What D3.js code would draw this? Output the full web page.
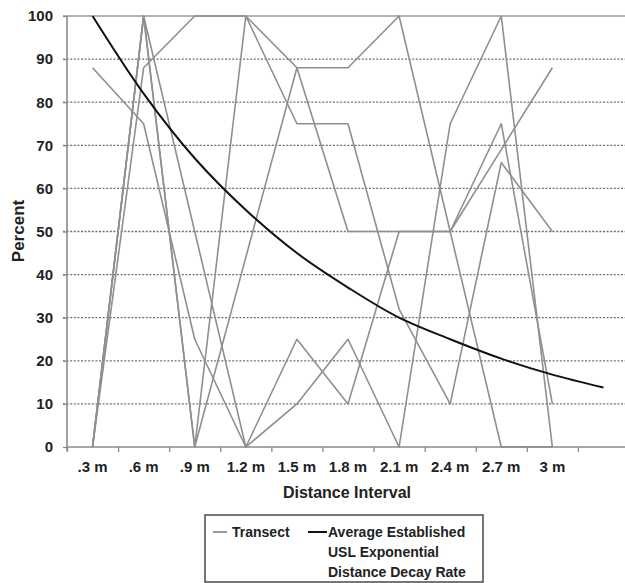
<!DOCTYPE html>
<html>
<head>
<meta charset="utf-8">
<script src="https://cdn.jsdelivr.net/npm/d3@7/dist/d3.min.js"></script>
<style>
  html, body { margin: 0; padding: 0; background: #fff; }
  svg { display: block; font-family: "Liberation Sans", Arial, sans-serif; font-weight: bold; }
</style>
</head>
<body>
<svg id="chart" width="625" height="583"></svg>
<script>
// Distance intervals along the transect (the last slot carries only the decay curve)
const categories = [".3 m", ".6 m", ".9 m", "1.2 m", "1.5 m", "1.8 m", "2.1 m", "2.4 m", "2.7 m", "3 m", ""];

// Percent cover per transect at each interval
const transect1 = [0, 88, 100, 100, 88, 88, 100, 50, 0, 0];
const transect2 = [0, 100, 0, 100, 75, 75, 32, 10, 66, 50];
const transect3 = [88, 75, 25, 0, 25, 10, 50, 50, 75, 10];
const transect4 = [0, 100, 0, 44, 88, 50, 50, 50, 69, 88];
const transect5 = [0, 100, 50, 0, 10, 25, 0, 75, 100, 0];

// Average established USL exponential distance decay rate
const decayRate = [100, 82, 67, 55, 45, 37, 30, 25, 20.5, 16.8, 13.8];

const yTicks = [0, 10, 20, 30, 40, 50, 60, 70, 80, 90, 100];

const svg = d3.select("#chart");
const plotLeft = 67, plotRight = 629, plotTop = 16, plotBottom = 447;

const x = d3.scaleBand().domain(categories).range([plotLeft, plotRight]).padding(0);
const xEdge = d3.scaleLinear().domain([0, categories.length]).range([plotLeft, plotRight]);
const y = d3.scaleLinear().domain([0, 100]).range([plotBottom, plotTop]);
const cx = c => x(c) + x.bandwidth() / 2;

// Dotted horizontal gridlines
const grid = svg.append("g");
grid.selectAll("line")
  .data(yTicks.filter(v => v > 0 && v < 100))
  .join("line")
  .attr("x1", plotLeft - 4).attr("x2", 625)
  .attr("y1", d => y(d)).attr("y2", d => y(d))
  .attr("stroke", "#6e6e6e").attr("stroke-width", 1.3)
  .attr("stroke-dasharray", "2,1.6");

// Solid line along the 100% level
svg.append("line")
  .attr("x1", plotLeft - 4).attr("x2", 625)
  .attr("y1", y(100)).attr("y2", y(100))
  .attr("stroke", "#9a9a9a").attr("stroke-width", 1.5);

// Transect lines
const transects = [transect1, transect2, transect3, transect4, transect5];
const line = d3.line()
  .x((d, i) => cx(categories[i]))
  .y(d => y(d));
svg.append("g").selectAll("path")
  .data(transects)
  .join("path")
  .attr("d", line)
  .attr("fill", "none")
  .attr("stroke", "#8f8f8f")
  .attr("stroke-width", 1.6)
  .attr("stroke-linejoin", "round");

// Smoothed decay curve
const curve = d3.line()
  .x((d, i) => cx(categories[i]))
  .y(d => y(d))
  .curve(d3.curveCatmullRom);
svg.append("path")
  .attr("d", curve(decayRate))
  .attr("fill", "none")
  .attr("stroke", "#111")
  .attr("stroke-width", 2);

// Y axis
const yAxis = svg.append("g")
  .attr("transform", `translate(${plotLeft},0)`)
  .call(d3.axisLeft(y).tickValues(yTicks).tickSize(4).tickPadding(10).tickFormat(d3.format("d")));
yAxis.select(".domain").attr("stroke", "#8a8a8a").attr("stroke-width", 1.6)
  .attr("d", `M0,${plotTop}V${plotBottom + 4}`);
yAxis.selectAll(".tick line").attr("stroke", "#8a8a8a").attr("stroke-width", 1.3);
yAxis.selectAll(".tick text").attr("font-size", 15).attr("fill", "#222")
  .attr("font-family", "'Liberation Sans', Arial, sans-serif").attr("font-weight", "bold");

// X axis: ticks on the interval edges, labels at the centres
const xAxis = svg.append("g")
  .attr("transform", `translate(0,${plotBottom})`)
  .call(d3.axisBottom(xEdge).tickValues(d3.range(0, categories.length + 1)).tickSize(5).tickFormat(""));
xAxis.select(".domain").attr("stroke", "#8a8a8a").attr("stroke-width", 1.6)
  .attr("d", `M${plotLeft},0H${plotRight}`);
xAxis.selectAll(".tick line").attr("stroke", "#8a8a8a").attr("stroke-width", 1.3);

const xLabels = svg.append("g")
  .attr("transform", `translate(0,${plotBottom})`)
  .call(d3.axisBottom(x).tickSize(0).tickPadding(14));
xLabels.select(".domain").remove();
xLabels.selectAll(".tick text").attr("font-size", 15).attr("fill", "#222")
  .attr("font-family", "'Liberation Sans', Arial, sans-serif").attr("font-weight", "bold");

// Axis titles
svg.append("text")
  .attr("x", 347).attr("y", 498)
  .attr("text-anchor", "middle")
  .attr("font-size", 16).attr("fill", "#222")
  .text("Distance Interval");

svg.append("text")
  .attr("transform", "translate(24,231) rotate(-90)")
  .attr("text-anchor", "middle")
  .attr("font-size", 17).attr("fill", "#222")
  .text("Percent");

// Legend
const legend = svg.append("g");
legend.append("rect")
  .attr("x", 205).attr("y", 515).attr("width", 278).attr("height", 67)
  .attr("fill", "#fff").attr("stroke", "#4a4a4a").attr("stroke-width", 1.5);
legend.append("line")
  .attr("x1", 213).attr("x2", 227).attr("y1", 532).attr("y2", 532)
  .attr("stroke", "#8f8f8f").attr("stroke-width", 1.8);
legend.append("text")
  .attr("x", 232).attr("y", 537).attr("font-size", 14).attr("fill", "#222")
  .text("Transect");
legend.append("line")
  .attr("x1", 308).attr("x2", 327).attr("y1", 532).attr("y2", 532)
  .attr("stroke", "#111").attr("stroke-width", 2);
const legendLines = ["Average Established", "USL Exponential", "Distance Decay Rate"];
legend.append("text")
  .attr("font-size", 14).attr("fill", "#222")
  .selectAll("tspan")
  .data(legendLines)
  .join("tspan")
  .attr("x", 328)
  .attr("y", (d, i) => 537 + i * 20)
  .text(d => d);
</script>
</body>
</html>
